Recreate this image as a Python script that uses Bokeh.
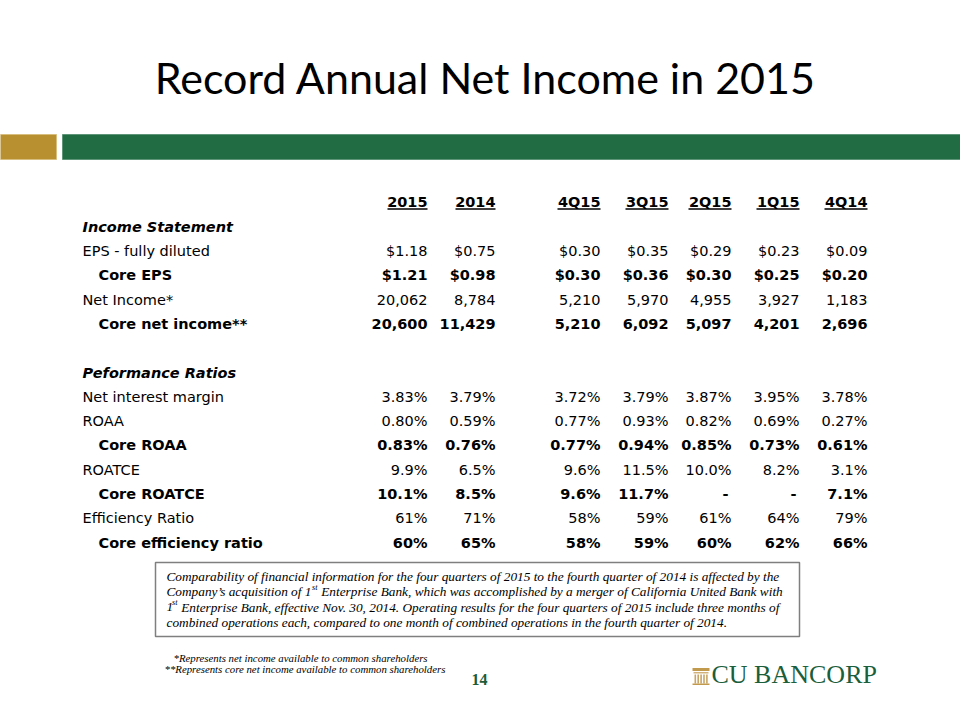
from bokeh.plotting import figure
from bokeh.models import ColumnDataSource, Range1d
from bokeh.core.properties import value
from bokeh.embed import file_html
from bokeh.resources import INLINE

# ---------------- data ----------------
title = "Record Annual Net Income in 2015"
col_headers = ["2015", "2014", "4Q15", "3Q15", "2Q15", "1Q15", "4Q14"]
section_titles = ["Income Statement", "Peformance Ratios"]
row_labels = ["EPS - fully diluted", "Core EPS", "Net Income*", "Core net income**",
              "Net interest margin", "ROAA", "Core ROAA", "ROATCE", "Core ROATCE",
              "Efficiency Ratio", "Core efficiency ratio"]
row_bold = [False, True, False, True, False, False, True, False, True, False, True]

v_2015 = ["$1.18", "$1.21", "20,062", "20,600", "3.83%", "0.80%", "0.83%", "9.9%", "10.1%", "61%", "60%"]
v_2014 = ["$0.75", "$0.98", "8,784", "11,429", "3.79%", "0.59%", "0.76%", "6.5%", "8.5%", "71%", "65%"]
v_4q15 = ["$0.30", "$0.30", "5,210", "5,210", "3.72%", "0.77%", "0.77%", "9.6%", "9.6%", "58%", "58%"]
v_3q15 = ["$0.35", "$0.36", "5,970", "6,092", "3.79%", "0.93%", "0.94%", "11.5%", "11.7%", "59%", "59%"]
v_2q15 = ["$0.29", "$0.30", "4,955", "5,097", "3.87%", "0.82%", "0.85%", "10.0%", "-", "61%", "60%"]
v_1q15 = ["$0.23", "$0.25", "3,927", "4,201", "3.95%", "0.69%", "0.73%", "8.2%", "-", "64%", "62%"]
v_4q14 = ["$0.09", "$0.20", "1,183", "2,696", "3.78%", "0.27%", "0.61%", "3.1%", "7.1%", "79%", "66%"]
columns = [v_2015, v_2014, v_4q15, v_3q15, v_2q15, v_1q15, v_4q14]

note_lines = [
    "Comparability of financial information for the four quarters of 2015 to the fourth quarter of 2014 is affected by the",
    ["Company\u2019s acquisition of 1", "st", "Enterprise Bank, which was accomplished by a merger of California United Bank with"],
    ["1", "st", "Enterprise Bank, effective Nov. 30, 2014. Operating results for the four quarters of 2015 include three months of"],
    "combined operations each, compared to one month of combined operations in the fourth quarter of 2014.",
]
footnotes = ["*Represents net income  available to common shareholders",
             "**Represents core net income available to common shareholders"]
page_number = "14"
logo_text = "CU BANCORP"

# ---------------- layout ----------------
FONT = value("DejaVu Sans")
SERIF = value("Liberation Serif")
FS = "14.5px"
col_right = [427, 495, 600, 668, 731, 799, 867]
col_uline_w = [40, 40, 43, 43, 43, 43, 43]
header_mid = 201.8
row_mid0 = 226.2
pitch = 24.3
row_slots = [1, 2, 3, 4, 7, 8, 9, 10, 11, 12, 13]
section_slots = [0, 6]
label_x = 82
indent_x = 98

W, H = 960, 720
p = figure(width=W, height=H, x_range=Range1d(0, W), y_range=Range1d(H, 0),
           output_backend="svg", toolbar_location=None, min_border=0,
           x_axis_location=None, y_axis_location=None)
p.grid.visible = False
p.outline_line_color = None
p.background_fill_color = "white"
p.border_fill_color = "white"

# title
p.text(x=[485], y=[77], text=[title], text_font=value("Lato"), text_font_size="43px",
       text_align="center", text_baseline="middle", text_color="#000000")

# header bars
p.quad(left=[-2], right=[56], top=[134], bottom=[159], fill_color="#B8902F",
       line_color="#D8BE7E", line_width=1)
p.quad(left=[62], right=[964], top=[134], bottom=[159], fill_color="#216C42",
       line_color="#5E9477", line_width=1)

# column headers with underline
hsrc = ColumnDataSource(dict(x=col_right, y=[header_mid] * len(col_headers), t=col_headers))
p.text(x="x", y="y", text="t", source=hsrc, text_font=FONT, text_font_size=FS,
       text_font_style="bold", text_align="right", text_baseline="middle", text_color="#000000")
p.segment(x0=[r - w for r, w in zip(col_right, col_uline_w)], x1=col_right,
          y0=[208.5] * len(col_headers), y1=[208.5] * len(col_headers),
          line_color="#000000", line_width=1.3)

# section titles
p.text(x=[label_x] * 2, y=[row_mid0 + pitch * s for s in section_slots], text=section_titles,
       text_font=FONT, text_font_size=FS, text_font_style="bold italic",
       text_baseline="middle", text_color="#000000")

# row labels
for bold in (False, True):
    idx = [i for i, b in enumerate(row_bold) if b == bold]
    src = ColumnDataSource(dict(
        x=[indent_x if bold else label_x] * len(idx),
        y=[row_mid0 + pitch * row_slots[i] for i in idx],
        t=[row_labels[i] for i in idx]))
    p.text(x="x", y="y", text="t", source=src, text_font=FONT, text_font_size=FS,
           text_font_style="bold" if bold else "normal", text_baseline="middle",
           text_color="#000000")

# values
for bold in (False, True):
    xs, ys, ts = [], [], []
    for j, col in enumerate(columns):
        for i, v in enumerate(col):
            if row_bold[i] != bold:
                continue
            xs.append(col_right[j] - (3 if v == "-" else 0))
            ys.append(row_mid0 + pitch * row_slots[i])
            ts.append(v)
    src = ColumnDataSource(dict(x=xs, y=ys, t=ts))
    p.text(x="x", y="y", text="t", source=src, text_font=FONT, text_font_size=FS,
           text_font_style="bold" if bold else "normal", text_align="right",
           text_baseline="middle", text_color="#000000")

# note box
p.quad(left=[155], right=[799], top=[562], bottom=[636], fill_color=None,
       line_color="#7F7F7F", line_width=1.5)
note_base = [580, 595.5, 611, 626.5]
NFS = 13.3
nx = 166
mid_off = 0.3375 * NFS
for k, line in enumerate(note_lines):
    y = note_base[k] - mid_off
    if isinstance(line, str):
        p.text(x=[nx], y=[y], text=[line], text_font=SERIF, text_font_size=f"{NFS}px",
               text_font_style="italic", text_baseline="middle", text_color="#000000")
    else:
        pre, sup, post = line
        pre_w = (11.028 if len(pre) > 1 else 0.5) * NFS
        sup_fs = NFS * 0.62
        sup_w = 0.667 * sup_fs
        p.text(x=[nx], y=[y], text=[pre], text_font=SERIF, text_font_size=f"{NFS}px",
               text_font_style="italic", text_baseline="middle", text_color="#000000")
        p.text(x=[nx + pre_w - 1.2], y=[y - 4.3], text=[sup], text_font=SERIF,
               text_font_size=f"{sup_fs:.1f}px", text_font_style="italic",
               text_baseline="middle", text_color="#000000")
        p.text(x=[nx + pre_w + sup_w + 0.25 * NFS - 0.8], y=[y], text=[post], text_font=SERIF,
               text_font_size=f"{NFS}px", text_font_style="italic",
               text_baseline="middle", text_color="#000000")

# footnotes
FNS = 10.8
p.text(x=[173, 164], y=[661 - 0.3375 * FNS, 672.5 - 0.3375 * FNS], text=footnotes,
       text_font=SERIF, text_font_size=f"{FNS}px",
       text_font_style="italic", text_baseline="middle", text_color="#000000")

# page number
p.text(x=[479], y=[679], text=[page_number], text_font=SERIF, text_font_size="16px",
       text_font_style="bold", text_align="center", text_baseline="middle",
       text_color="#1E5C38")

# logo: pillar icon + name
p.quad(left=[692], right=[709], top=[667.5], bottom=[670.5], fill_color="#C29A4E", line_color=None)
p.quad(left=[693], right=[708], top=[671.5], bottom=[673], fill_color="#D2B27A", line_color=None)
p.quad(left=[694 + 2.9 * k for k in range(5)], right=[695.6 + 2.9 * k for k in range(5)],
       top=[674] * 5, bottom=[683] * 5, fill_color="#C8A467", line_color=None)
p.quad(left=[692], right=[709], top=[683], bottom=[684.5], fill_color="#C29A4E", line_color=None)
p.text(x=[711], y=[682.5 - 0.3375 * 26], text=[logo_text], text_font=SERIF, text_font_size="26px",
       text_baseline="middle", text_color="#1B5E3B")

open("out.html", "w").write(file_html(p, INLINE))
